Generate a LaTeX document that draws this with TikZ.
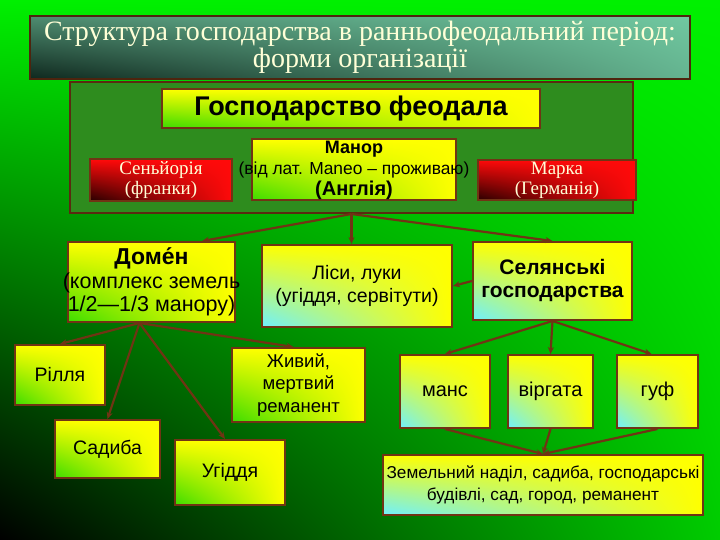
\documentclass[tikz,border=0pt]{standalone}
\usepackage{fontspec}
\setmainfont{Liberation Serif}
\setsansfont{Liberation Sans}
\usetikzlibrary{arrows.meta, positioning, calc, shadings}
\definecolor{bark}{RGB}{112,52,20}
\definecolor{leaf}{RGB}{0,240,0}
\definecolor{moss}{RGB}{46,140,30}
\definecolor{sun}{RGB}{255,255,0}
\definecolor{grass}{RGB}{60,220,0}
\definecolor{sky}{RGB}{110,240,255}
\definecolor{fire}{RGB}{255,10,10}
\definecolor{ember}{RGB}{40,0,0}
\definecolor{cream}{RGB}{255,255,215}
\definecolor{sea}{RGB}{112,200,160}
\definecolor{deep}{RGB}{15,40,30}

\begin{document}
\begin{tikzpicture}[x=1pt, y=-1pt,
    box/.style={rectangle, draw=bark, line width=2pt, align=center, inner sep=2pt,
        font=\sffamily\fontsize{19.5}{23.5}\selectfont},
    sunbox/.style={box, lower left=grass, upper left=sun, upper right=sun, lower right=sun},
    skybox/.style={box, lower left=sky, upper left=sun, upper right=sun, lower right=sun},
    firebox/.style={box, lower left=ember, upper left=fire, upper right=fire, lower right=fire,
        text=cream, font=\rmfamily\fontsize{19}{20}\selectfont},
    arr/.style={-{Stealth[length=7pt, width=6pt]}, line width=2.2pt, bark},
]

% background
\shade[lower left=black, upper left=leaf, upper right=leaf, lower right=leaf!85!black]
    (0,0) rectangle (720,540);

% title
\node[box, draw=bark!70!black, minimum width=660pt, minimum height=63pt,
    lower left=deep, upper left=sea!70!black, upper right=sea, lower right=sea!90!black,
    text=cream, font=\rmfamily\fontsize{28}{27}\selectfont] (title) at (360,47.5)
    {Структура господарства в ранньофеодальний період:\\форми організації};

% feudal estate
\node[box, fill=moss, draw=bark!80!black, minimum width=563pt, minimum height=131pt] (estate) at (351.5,147.5) {};
\node[sunbox, minimum width=378pt, minimum height=39pt, font=\sffamily\bfseries\fontsize{27}{28}\selectfont]
    (feudal) at (351,108.5) {Господарство феодала};
\node[sunbox, minimum width=204pt, minimum height=61pt, inner sep=0pt, font=\sffamily\fontsize{17.4}{21}\selectfont]
    (manor) at (354,170) {{\bfseries\fontsize{18}{21}\selectfont Манор}\\
    \makebox[0pt]{(від лат. Maneo – проживаю)}\\{\bfseries\fontsize{20}{21}\selectfont (Англія)}};
\node[firebox, minimum width=142pt, minimum height=40pt] (senior) at (161,180) {Сеньйорія\\(франки)};
\node[firebox, minimum width=158pt, minimum height=40pt] (marka) at (557,180) {Марка\\(Германія)};

% second row
\node[sunbox, minimum width=167pt, minimum height=80pt, font=\sffamily\fontsize{21.5}{23.5}\selectfont]
    (domen) at (151.5,282) {{\bfseries\fontsize{23}{23}\selectfont Доме́н}\\
    \makebox[0pt]{(комплекс земель}\\\makebox[0pt]{1/2—1/3 манору)}};
\node[skybox, minimum width=190pt, minimum height=82pt] (lisy) at (357,286) {Ліси, луки\\(угіддя, сервітути)};
\node[skybox, minimum width=159pt, minimum height=78pt, font=\sffamily\bfseries\fontsize{21}{23}\selectfont]
    (selyan) at (552.5,281) {Селянські\\господарства};

% domain parts
\node[sunbox, minimum width=90pt, minimum height=60pt] (rillia) at (60,375) {Рілля};
\node[sunbox, minimum width=133pt, minimum height=74pt, font=\sffamily\fontsize{18.5}{22.5}\selectfont]
    (zhyvyi) at (298.5,385) {Живий,\\мертвий\\реманент};
\node[sunbox, minimum width=105pt, minimum height=58pt] (sadyba) at (107.5,449) {Садиба};
\node[sunbox, minimum width=110pt, minimum height=65pt] (uhiddia) at (230,472.5) {Угіддя};

% peasant holdings
\node[skybox, minimum width=90pt, minimum height=73pt, font=\sffamily\fontsize{20}{23}\selectfont] (mans) at (445,391.5) {манс};
\node[skybox, minimum width=85pt, minimum height=73pt, font=\sffamily\fontsize{20}{23}\selectfont] (virhata) at (550.5,391.5) {віргата};
\node[skybox, minimum width=81pt, minimum height=73pt, font=\sffamily\fontsize{20}{23}\selectfont] (huf) at (657.5,391.5) {гуф};
\node[skybox, minimum width=320pt, minimum height=60pt, font=\sffamily\fontsize{17.2}{22}\selectfont]
    (zemel) at (543,485) {Земельний наділ, садиба, господарські\\будівлі, сад, город, реманент};

% connectors
\coordinate (dfork) at ($(domen.south)+(-12,0)$);
\draw[arr] (estate.south) -- ($(domen.north)!0.6!(domen.north east)$);
\draw[arr] (estate.south) -- (estate.south |- lisy.north);
\draw[arr] (estate.south) -- (selyan.north);
\draw[arr] (selyan.west) -- (lisy.east);
\draw[arr] (dfork) -- (rillia.north);
\draw[arr] (dfork) -- (sadyba.north);
\draw[arr] (dfork) -- ($(uhiddia.north)+(-5,0)$);
\draw[arr] (dfork) -- ($(zhyvyi.north)+(-5,0)$);
\draw[arr] (selyan.south) -- (mans.north);
\draw[arr] (selyan.south) -- (virhata.north);
\draw[arr] (selyan.south) -- ($(huf.north)+(-6,0)$);
\draw[arr] (mans.south) -- (zemel.north);
\draw[arr] (virhata.south) -- (zemel.north);
\draw[arr] (huf.south) -- (zemel.north);

\end{tikzpicture}
\end{document}
